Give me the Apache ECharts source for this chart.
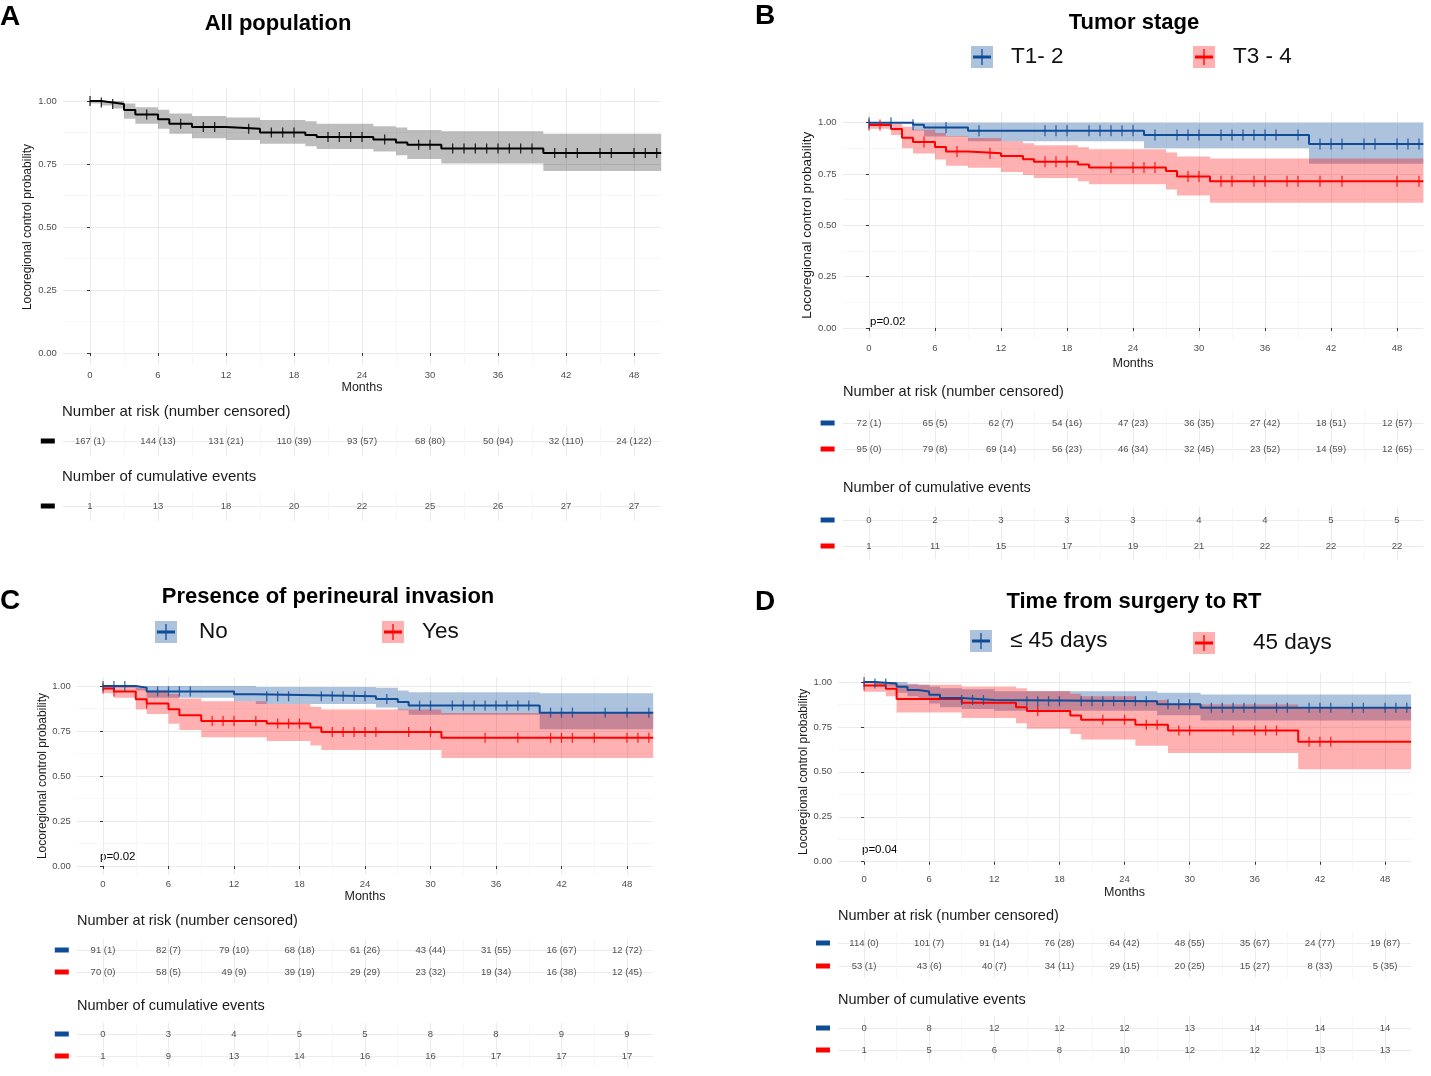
<!DOCTYPE html>
<html>
<head>
<meta charset="utf-8">
<title>Locoregional control</title>
<script src="https://cdn.jsdelivr.net/npm/echarts@6/dist/echarts.min.js"></script>
<style>
  html, body { margin: 0; padding: 0; background: #fff; }
  #chart { width: 1431px; height: 1076px; }
</style>
</head>
<body>
<div id="chart"></div>
<script>
// axis breaks
var monthTicks = [0, 6, 12, 18, 24, 30, 36, 42, 48];
var minorMonths = [3, 9, 15, 21, 27, 33, 39, 45];
var probTicks = [0, 0.25, 0.5, 0.75, 1];
var minorProb = [0.125, 0.375, 0.625, 0.875];

// A - all population
var aTime   = [0, 1, 2, 3, 4, 6, 7, 9, 12, 15, 19, 20, 25, 27, 28, 31, 40];
var aSurv   = [1.000, 0.994, 0.988, 0.964, 0.946, 0.928, 0.910, 0.897, 0.890, 0.875, 0.865, 0.857, 0.847, 0.835, 0.826, 0.812, 0.794];
var aUpper  = [1.000, 1.000, 1.000, 0.990, 0.975, 0.965, 0.950, 0.940, 0.935, 0.925, 0.920, 0.910, 0.900, 0.895, 0.885, 0.880, 0.870];
var aLower  = [0.990, 0.982, 0.970, 0.930, 0.910, 0.890, 0.870, 0.852, 0.845, 0.830, 0.820, 0.810, 0.800, 0.785, 0.770, 0.752, 0.722];
var aCensor = [0, 1, 2, 5, 8, 10, 11, 14, 16, 17, 18, 21, 22, 23, 24, 26, 29, 30, 32, 33, 34, 35, 36, 37, 38, 39, 41, 42, 43, 45, 46, 48, 49, 50];
var aRisk   = ['167 (1)', '144 (13)', '131 (21)', '110 (39)', '93 (57)', '68 (80)', '50 (94)', '32 (110)', '24 (122)'];
var aEvents = [1, 13, 18, 20, 22, 25, 26, 27, 27];

// B - tumor stage
var bT12Time   = [0, 4, 5, 9, 25, 40];
var bT12Surv   = [1.000, 0.990, 0.976, 0.961, 0.940, 0.896];
var bT12Upper  = [1.000, 1.000, 1.000, 1.000, 1.000, 1.000];
var bT12Lower  = [1.000, 0.962, 0.932, 0.910, 0.875, 0.800];
var bT12Censor = [0, 2, 4, 7, 10, 16, 17, 18, 20, 21, 22, 23, 24, 26, 28, 29, 30, 32, 33, 34, 35, 36, 37, 39, 41, 42, 43, 45, 46, 48, 49, 50];
var bT34Time   = [0, 2, 3, 4, 6, 7, 9, 12, 14, 15, 19, 20, 27, 28, 31];
var bT34Surv   = [0.989, 0.969, 0.926, 0.906, 0.882, 0.859, 0.851, 0.837, 0.822, 0.810, 0.796, 0.781, 0.764, 0.738, 0.714];
var bT34Upper  = [1.000, 0.995, 0.980, 0.965, 0.950, 0.935, 0.925, 0.910, 0.900, 0.890, 0.880, 0.870, 0.855, 0.835, 0.825];
var bT34Lower  = [0.970, 0.940, 0.875, 0.850, 0.820, 0.790, 0.780, 0.760, 0.745, 0.730, 0.715, 0.700, 0.675, 0.645, 0.610];
var bT34Censor = [0, 1, 5, 8, 11, 16, 17, 18, 22, 24, 25, 26, 29, 30, 32, 33, 35, 36, 38, 39, 41, 43, 48, 50];
var bRiskT12   = ['72 (1)', '65 (5)', '62 (7)', '54 (16)', '47 (23)', '36 (35)', '27 (42)', '18 (51)', '12 (57)'];
var bRiskT34   = ['95 (0)', '79 (8)', '69 (14)', '56 (23)', '46 (34)', '32 (45)', '23 (52)', '14 (59)', '12 (65)'];
var bEventsT12 = [0, 2, 3, 3, 3, 4, 4, 5, 5];
var bEventsT34 = [1, 11, 15, 17, 19, 21, 22, 22, 22];

// C - perineural invasion
var cNoTime    = [0, 3, 4, 12, 14, 25, 27, 28, 40];
var cNoSurv    = [1.000, 0.991, 0.970, 0.954, 0.943, 0.928, 0.911, 0.891, 0.852];
var cNoUpper   = [1.000, 1.000, 1.000, 1.000, 0.995, 0.990, 0.975, 0.965, 0.960];
var cNoLower   = [0.990, 0.975, 0.935, 0.915, 0.900, 0.880, 0.865, 0.840, 0.760];
var cNoCensor  = [0, 1, 2, 5, 6, 7, 8, 15, 16, 17, 20, 21, 22, 23, 24, 26, 29, 30, 32, 33, 34, 35, 36, 37, 38, 39, 41, 42, 43, 46, 48, 50];
var cYesTime   = [0, 1, 3, 4, 6, 7, 9, 15, 19, 20, 31];
var cYesSurv   = [0.986, 0.970, 0.926, 0.903, 0.871, 0.837, 0.806, 0.791, 0.769, 0.745, 0.712];
var cYesUpper  = [1.000, 1.000, 0.990, 0.975, 0.955, 0.930, 0.915, 0.900, 0.885, 0.870, 0.850];
var cYesLower  = [0.960, 0.935, 0.870, 0.845, 0.790, 0.755, 0.715, 0.695, 0.670, 0.645, 0.600];
var cYesCensor = [0, 1, 4, 10, 11, 12, 14, 16, 17, 18, 21, 22, 23, 24, 25, 28, 30, 35, 38, 41, 42, 43, 45, 48, 49, 50];
var cRiskNo    = ['91 (1)', '82 (7)', '79 (10)', '68 (18)', '61 (26)', '43 (44)', '31 (55)', '16 (67)', '12 (72)'];
var cRiskYes   = ['70 (0)', '58 (5)', '49 (9)', '39 (19)', '29 (29)', '23 (32)', '19 (34)', '16 (38)', '12 (45)'];
var cEventsNo  = [0, 3, 4, 5, 5, 8, 8, 9, 9];
var cEventsYes = [1, 9, 13, 14, 16, 16, 17, 17, 17];

// D - time from surgery to RT
var dLeTime    = [0, 1, 3, 4, 5, 6, 7, 9, 12, 27, 31];
var dLeSurv    = [1.000, 0.991, 0.973, 0.956, 0.947, 0.929, 0.911, 0.900, 0.893, 0.876, 0.857];
var dLeUpper   = [1.000, 1.000, 1.000, 0.990, 0.985, 0.975, 0.965, 0.960, 0.948, 0.940, 0.930];
var dLeLower   = [1.000, 0.975, 0.940, 0.920, 0.905, 0.880, 0.860, 0.850, 0.840, 0.815, 0.786];
var dLeCensor  = [0, 1, 2, 9, 10, 11, 15, 16, 17, 18, 20, 21, 22, 23, 24, 25, 26, 28, 29, 30, 32, 33, 34, 35, 36, 38, 39, 41, 42, 43, 45, 46, 48, 49, 50];
var dGtTime    = [0, 2, 3, 9, 14, 15, 19, 20, 25, 28, 40];
var dGtSurv    = [0.981, 0.962, 0.906, 0.885, 0.860, 0.838, 0.814, 0.790, 0.762, 0.730, 0.668];
var dGtUpper   = [1.000, 1.000, 0.985, 0.975, 0.965, 0.950, 0.935, 0.920, 0.900, 0.875, 0.860];
var dGtLower   = [0.945, 0.920, 0.830, 0.800, 0.770, 0.740, 0.710, 0.680, 0.645, 0.605, 0.515];
var dGtCensor  = [0, 16, 22, 24, 26, 27, 29, 30, 34, 36, 37, 38, 41, 42, 43];
var dRiskLe    = ['114 (0)', '101 (7)', '91 (14)', '76 (28)', '64 (42)', '48 (55)', '35 (67)', '24 (77)', '19 (87)'];
var dRiskGt    = ['53 (1)', '43 (6)', '40 (7)', '34 (11)', '29 (15)', '20 (25)', '15 (27)', '8 (33)', '5 (35)'];
var dEventsLe  = [0, 8, 12, 12, 12, 13, 14, 14, 14];
var dEventsGt  = [1, 5, 6, 8, 10, 12, 12, 13, 13];

var FONT = '"Liberation Sans", Arial, Helvetica, sans-serif';
var X_MIN = -2.4, X_MAX = 50.4;
var BLUE = '#0f4c97', RED = '#ff0000', BLACK = '#000000';
var BLUE_FILL = 'rgba(15,76,151,0.34)', RED_FILL = 'rgba(255,0,0,0.31)', GREY_FILL = 'rgba(0,0,0,0.26)';

var option = {
  animation: false,
  backgroundColor: '#ffffff',
  textStyle: { fontFamily: FONT },
  grid: [], xAxis: [], yAxis: [], series: [], graphic: []
};

function addGrid(box) {
  option.grid.push({ left: box.left, top: box.top, width: box.width, height: box.height, outerBoundsMode: 'none' });
  return option.grid.length - 1;
}

// major axis (ticks, labels, grid) + a hidden one for the minor grid lines
function addXAxes(gi, cfg) {
  var on = !!cfg;
  option.xAxis.push({
    type: 'value', gridIndex: gi, min: X_MIN, max: X_MAX, position: 'bottom',
    axisLine: { show: false },
    axisTick: { show: on, customValues: monthTicks, length: 3, lineStyle: { color: '#333', width: 1 } },
    axisLabel: { show: on, customValues: monthTicks, margin: on ? cfg.labelMargin : 0, fontSize: 9.5, color: '#4d4d4d' },
    splitLine: { show: true, lineStyle: { color: '#ebebeb', width: 1 } },
    name: on ? 'Months' : '', nameLocation: 'middle', nameGap: on ? cfg.nameGap : 0,
    nameTextStyle: { fontSize: 12.5, color: '#1a1a1a' }
  });
  var major = option.xAxis.length - 1;
  option.xAxis.push({
    type: 'value', gridIndex: gi, min: X_MIN, max: X_MAX, position: 'top',
    axisLine: { show: false }, axisTick: { show: false, customValues: minorMonths },
    axisLabel: { show: false }, splitLine: { show: true, lineStyle: { color: '#f3f3f3', width: 0.7 } }
  });
  return major;
}

function addPlotYAxes(gi, cfg) {
  option.yAxis.push({
    type: 'value', gridIndex: gi, min: -0.05, max: 1.05,
    axisLine: { show: false },
    axisTick: { show: true, customValues: probTicks, length: 3, lineStyle: { color: '#333', width: 1 } },
    axisLabel: { customValues: probTicks, margin: 6, fontSize: 9.5, color: '#4d4d4d',
      formatter: function (v) { return v.toFixed(2); } },
    splitLine: { show: true, lineStyle: { color: '#ebebeb', width: 1 } },
    name: 'Locoregional control probability', nameLocation: 'middle', nameRotate: 90,
    nameGap: cfg.yNameGap, nameTextStyle: { fontSize: cfg.yNameSize, color: '#1a1a1a' }
  });
  var major = option.yAxis.length - 1;
  option.yAxis.push({
    type: 'value', gridIndex: gi, min: -0.05, max: 1.05, position: 'right',
    axisLine: { show: false }, axisTick: { show: false, customValues: minorProb },
    axisLabel: { show: false }, splitLine: { show: true, lineStyle: { color: '#f3f3f3', width: 0.7 } }
  });
  return major;
}

function stepPoints(time, vals) {
  var pts = time.map(function (t, i) { return [t, vals[i]]; });
  pts.push([X_MAX, vals[vals.length - 1]]);
  return pts;
}

function survAt(time, surv, t) {
  var s = surv[0];
  for (var i = 0; i < time.length; i++) { if (time[i] <= t) s = surv[i]; }
  return s;
}

// confidence band outline in data units: upper steps left->right, lower steps back
function bandOutline(g) {
  var n = g.time.length, pts = [], i;
  for (i = 0; i < n; i++) {
    var tEnd = i < n - 1 ? g.time[i + 1] : X_MAX;
    pts.push([g.time[i], g.upper[i]], [tEnd, g.upper[i]]);
  }
  for (i = n - 1; i >= 0; i--) {
    var tEnd2 = i < n - 1 ? g.time[i + 1] : X_MAX;
    pts.push([tEnd2, g.lower[i]], [g.time[i], g.lower[i]]);
  }
  return pts;
}

function addBand(xi, yi, g) {
  var outline = bandOutline(g);
  option.series.push({
    type: 'custom', xAxisIndex: xi, yAxisIndex: yi, silent: true, z: 1, clip: true,
    data: [[g.time[0], g.upper[0]]],
    renderItem: function (params, api) {
      return {
        type: 'polygon',
        shape: { points: outline.map(function (p) { return api.coord(p); }) },
        style: { fill: g.fill }
      };
    }
  });
}

function addCurve(xi, yi, g, tick) {
  option.series.push({
    type: 'line', xAxisIndex: xi, yAxisIndex: yi, step: 'end', symbol: 'none', silent: true, z: 3,
    lineStyle: { color: g.color, width: 2 }, data: stepPoints(g.time, g.surv)
  });
  option.series.push({
    type: 'scatter', xAxisIndex: xi, yAxisIndex: yi, symbol: 'rect', symbolSize: [1.3, tick], silent: true, z: 4,
    itemStyle: { color: g.color },
    data: g.censor.map(function (t) { return [t, survAt(g.time, g.surv, t)]; })
  });
}

function addTable(box, rows, colors) {
  var gi = addGrid(box);
  var xi = addXAxes(gi, null);
  var idx = rows.map(function (r, i) { return i; });
  var rich = {};
  colors.forEach(function (c, i) { rich['c' + i] = { backgroundColor: c, width: 14, height: 5, lineHeight: 5 }; });
  option.yAxis.push({
    type: 'value', gridIndex: gi, inverse: true, min: -0.5, max: rows.length - 0.5,
    axisLine: { show: false }, axisTick: { show: false, customValues: idx },
    axisLabel: { customValues: idx, margin: 8, rich: rich,
      formatter: function (v) { return '{c' + Math.round(v) + '| }'; } },
    splitLine: { show: true, lineStyle: { color: '#ebebeb', width: 1 } }
  });
  var yi = option.yAxis.length - 1;
  rows.forEach(function (vals, r) {
    option.series.push({
      type: 'scatter', xAxisIndex: xi, yAxisIndex: yi, symbolSize: 1, silent: true,
      itemStyle: { color: 'rgba(0,0,0,0)' },
      label: { show: true, position: 'inside', formatter: '{b}', fontSize: 9.5, color: '#222' },
      data: vals.map(function (v, k) { return { name: String(v), value: [monthTicks[k], r] }; })
    });
  });
}

function addText(x, y, str, size, weight, color) {
  option.graphic.push({
    type: 'text', x: x, y: y, silent: true,
    style: { text: str, fontSize: size, fontWeight: weight || 'normal', fontFamily: FONT, fill: color || '#111',
      align: 'left', textAlign: 'left', verticalAlign: 'middle', textVerticalAlign: 'middle' }
  });
}
function addCenteredText(x, y, str, size, weight) {
  option.graphic.push({
    type: 'text', x: x, y: y, silent: true,
    style: { text: str, fontSize: size, fontWeight: weight || 'normal', fontFamily: FONT, fill: '#000',
      align: 'center', textAlign: 'center', verticalAlign: 'middle', textVerticalAlign: 'middle' }
  });
}
function addLegendKey(cx, cy, color, fill, label, textX) {
  option.graphic.push({ type: 'rect', silent: true, shape: { x: cx - 11, y: cy - 11, width: 22, height: 22 }, style: { fill: fill } });
  option.graphic.push({ type: 'line', silent: true, shape: { x1: cx - 9, y1: cy, x2: cx + 9, y2: cy }, style: { stroke: color, lineWidth: 3 } });
  option.graphic.push({ type: 'line', silent: true, shape: { x1: cx, y1: cy - 8, x2: cx, y2: cy + 8 }, style: { stroke: color, lineWidth: 1.3 } });
  addText(textX, cy, label, 22.5, 'normal', '#111');
}

var panels = [
  {
    letter: 'A', letterX: 0, letterY: 17, title: 'All population', titleX: 278, titleY: 24,
    plot: { left: 62.8, top: 88.4, width: 598.4, height: 277.2 },
    xLabelMargin: 5, xNameGap: 15, yNameGap: 29, yNameSize: 12, tick: 10,
    groups: [{ time: aTime, surv: aSurv, upper: aUpper, lower: aLower, censor: aCensor, color: BLACK, fill: GREY_FILL }],
    risk: { top: 426, height: 30, rows: [aRisk] }, riskTitleY: 412,
    events: { top: 491, height: 30, rows: [aEvents] }, eventsTitleY: 477,
    tableTitleX: 62, tableTitleSize: 15, colors: [BLACK]
  },
  {
    letter: 'B', letterX: 755, letterY: 16, title: 'Tumor stage', titleX: 1134, titleY: 23,
    plot: { left: 842.6, top: 112.4, width: 580.8, height: 225.8 },
    xLabelMargin: 5, xNameGap: 19, yNameGap: 25, yNameSize: 13.5, tick: 11,
    groups: [
      { time: bT12Time, surv: bT12Surv, upper: bT12Upper, lower: bT12Lower, censor: bT12Censor, color: BLUE, fill: BLUE_FILL },
      { time: bT34Time, surv: bT34Surv, upper: bT34Upper, lower: bT34Lower, censor: bT34Censor, color: RED, fill: RED_FILL }
    ],
    legend: [[982, 57, 'T1- 2', 1011], [1204, 57, 'T3 - 4', 1233]],
    pValue: ['p=0.02', 870, 322],
    risk: { top: 410, height: 52, rows: [bRiskT12, bRiskT34] }, riskTitleY: 392,
    events: { top: 507, height: 52, rows: [bEventsT12, bEventsT34] }, eventsTitleY: 488,
    tableTitleX: 843, tableTitleSize: 14.5, colors: [BLUE, RED]
  },
  {
    letter: 'C', letterX: 0, letterY: 601, title: 'Presence of perineural invasion', titleX: 328, titleY: 597,
    plot: { left: 76.8, top: 677, width: 576.4, height: 198 },
    xLabelMargin: 4, xNameGap: 15.5, yNameGap: 26, yNameSize: 12, tick: 10,
    groups: [
      { time: cNoTime, surv: cNoSurv, upper: cNoUpper, lower: cNoLower, censor: cNoCensor, color: BLUE, fill: BLUE_FILL },
      { time: cYesTime, surv: cYesSurv, upper: cYesUpper, lower: cYesLower, censor: cYesCensor, color: RED, fill: RED_FILL }
    ],
    legend: [[166, 632, 'No', 199], [393, 632, 'Yes', 422]],
    pValue: ['p=0.02', 100, 857],
    risk: { top: 939, height: 44, rows: [cRiskNo, cRiskYes] }, riskTitleY: 921,
    events: { top: 1023, height: 44, rows: [cEventsNo, cEventsYes] }, eventsTitleY: 1006,
    tableTitleX: 77, tableTitleSize: 14.5, colors: [BLUE, RED]
  },
  {
    letter: 'D', letterX: 755, letterY: 602, title: 'Time from surgery to RT', titleX: 1134, titleY: 602,
    plot: { left: 838, top: 673, width: 573.1, height: 197.7 },
    xLabelMargin: 3.5, xNameGap: 15, yNameGap: 26, yNameSize: 12, tick: 10,
    groups: [
      { time: dLeTime, surv: dLeSurv, upper: dLeUpper, lower: dLeLower, censor: dLeCensor, color: BLUE, fill: BLUE_FILL },
      { time: dGtTime, surv: dGtSurv, upper: dGtUpper, lower: dGtLower, censor: dGtCensor, color: RED, fill: RED_FILL }
    ],
    legend: [[981, 641, '\u2264 45 days', 1010], [1204, 643, '45 days', 1253]],
    pValue: ['p=0.04', 862, 850],
    risk: { top: 931.5, height: 46, rows: [dRiskLe, dRiskGt] }, riskTitleY: 916,
    events: { top: 1017, height: 44, rows: [dEventsLe, dEventsGt] }, eventsTitleY: 1000,
    tableTitleX: 838, tableTitleSize: 14.5, colors: [BLUE, RED]
  }
];

panels.forEach(function (p) {
  var gi = addGrid(p.plot);
  var xi = addXAxes(gi, { labelMargin: p.xLabelMargin, nameGap: p.xNameGap });
  var yi = addPlotYAxes(gi, p);
  p.groups.forEach(function (g) { addBand(xi, yi, g); });
  // red first so the blue line sits on top where they meet
  p.groups.slice().reverse().forEach(function (g) { addCurve(xi, yi, g, p.tick); });

  addTable({ left: p.plot.left, width: p.plot.width, top: p.risk.top, height: p.risk.height }, p.risk.rows, p.colors);
  addTable({ left: p.plot.left, width: p.plot.width, top: p.events.top, height: p.events.height }, p.events.rows, p.colors);

  addText(p.letterX, p.letterY, p.letter, 28, 'bold', '#000');
  addCenteredText(p.titleX, p.titleY, p.title, 22, 'bold');
  addText(p.tableTitleX, p.riskTitleY, 'Number at risk (number censored)', p.tableTitleSize, 'normal', '#1a1a1a');
  addText(p.tableTitleX, p.eventsTitleY, 'Number of cumulative events', p.tableTitleSize, 'normal', '#1a1a1a');
  if (p.legend) {
    addLegendKey(p.legend[0][0], p.legend[0][1], BLUE, BLUE_FILL, p.legend[0][2], p.legend[0][3]);
    addLegendKey(p.legend[1][0], p.legend[1][1], RED, RED_FILL, p.legend[1][2], p.legend[1][3]);
  }
  if (p.pValue) addText(p.pValue[1], p.pValue[2], p.pValue[0], 11.5, 'normal', '#000');
});

var chart = echarts.init(document.getElementById('chart'));
chart.setOption(option);
</script>
</body>
</html>
